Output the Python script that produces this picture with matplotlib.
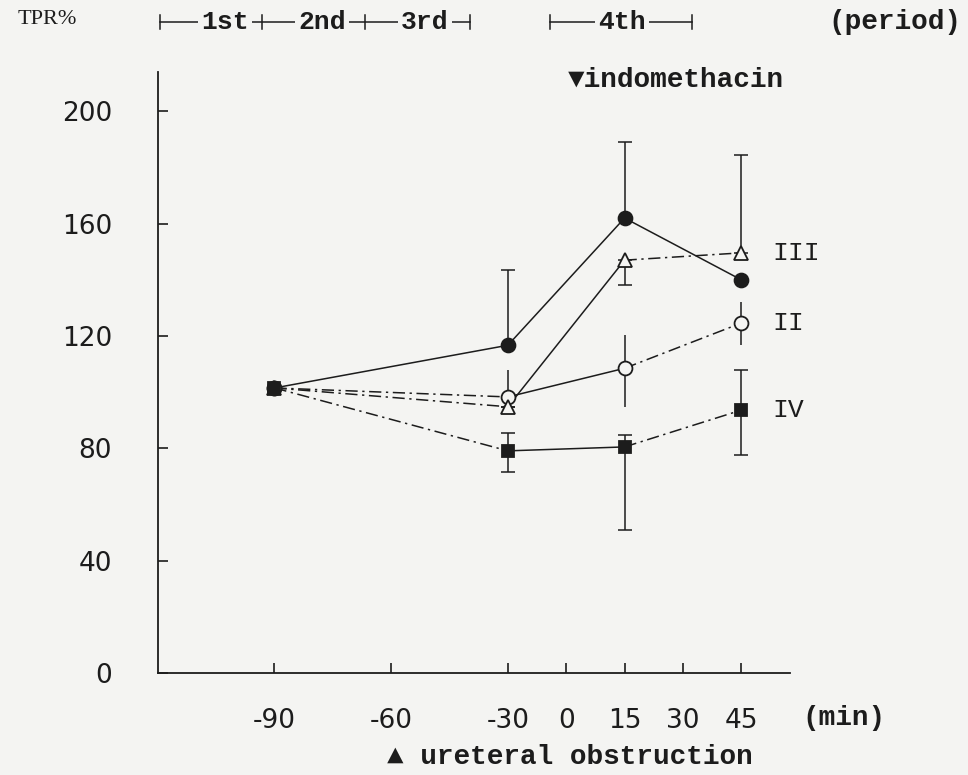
import numpy as np
import matplotlib.pyplot as plt

# time points (min) and group means / one-sided error bars (TPR %)
minutes = [-90, -30, 15, 45]
tick_minutes = [-90, -60, -30, 0, 15, 30, 45]
yticks = [0, 40, 80, 120, 160, 200]

groups = ['I', 'II', 'III', 'IV']
tpr_I = [101.5, 116.7, 162.0, 140.0]
tpr_II = [101.5, 98.3, 108.5, 124.6]
tpr_III = [101.5, 94.8, 147.0, 149.6]
tpr_IV = [101.5, 79.1, 80.5, 93.6]

up_I = [0, 26.7, 27.0, 0]
lo_I = [0, 0, 0, 0]
up_II = [0, 9.5, 12.0, 7.4]
lo_II = [0, 0, 13.7, 7.9]
up_III = [0, 0, 0, 35.0]
lo_III = [0, 0, 9.0, 0]
up_IV = [0, 6.3, 4.2, 14.2]
lo_IV = [0, 7.5, 29.6, 16.0]

ink = '#1c1c1c'
paper = '#f4f4f2'
mono = ['Liberation Mono', 'DejaVu Sans']
dashdot = (0, (8, 3, 1.5, 3))

# piecewise axis: -90..-30 and -30..45 are drawn at different spacing
bp_min = np.array([-200.0, -30.0, 0.0, 100.0])
bp_pos = np.array([(-200 + 90) / 15, 4.0, 5.0, 5 + 100 / 15])


def fwd(m):
    return np.interp(m, bp_min, bp_pos)


def inv(p):
    return np.interp(p, bp_pos, bp_min)


fig = plt.figure(figsize=(9.68, 7.75), dpi=100, facecolor=paper)
ax = fig.add_axes([0.163, 0.1316, 0.653, 0.7755])
ax.set_facecolor(paper)
ax.set_xscale('function', functions=(fwd, inv))
ax.set_xlim(-120, 57.5)
ax.set_ylim(0, 214)

series = [
    (tpr_I, up_I, lo_I, 'o', ink, ['-', '-', '-'], 5, 'I'),
    (tpr_II, up_II, lo_II, 'o', paper, [dashdot, '-', dashdot], 0, 'II'),
    (tpr_III, up_III, lo_III, '^', paper, [dashdot, '-', dashdot], 5, 'III'),
    (tpr_IV, up_IV, lo_IV, 's', ink, [dashdot, '-', dashdot], 5, 'IV'),
]

for vals, up, lo, mk, fc, styles, cap, name in series:
    for i in range(len(minutes) - 1):
        ax.plot(minutes[i:i + 2], vals[i:i + 2], color=ink, lw=1.1, ls=styles[i], zorder=2)
    ax.errorbar(minutes, vals, yerr=[lo, up], fmt='none', ecolor=ink, elinewidth=1.1,
                capsize=cap, capthick=1.1, zorder=2)
    ax.plot(minutes, vals, ls='none', marker=mk, ms=10 if mk != 's' else 9,
            mfc=fc, mec=ink, mew=1.3, zorder=3)
    if name != 'I':
        ax.text(53, vals[-1], name, family=mono, fontsize=19, color=ink, va='center', ha='left')

for side in ['top', 'right']:
    ax.spines[side].set_visible(False)
for side in ['left', 'bottom']:
    ax.spines[side].set_color(ink)
    ax.spines[side].set_linewidth(1.3)

ax.set_xticks(tick_minutes)
ax.set_xticklabels([str(t) for t in tick_minutes])
ax.set_yticks(yticks)
ax.set_yticklabels([str(t) for t in yticks])
ax.minorticks_off()
ax.tick_params(axis='both', direction='in', length=7, width=1.2, color=ink,
               labelsize=19, labelcolor=ink)
ax.tick_params(axis='x', pad=25)
ax.tick_params(axis='y', pad=33)


def px(x, y):
    return x / 968, 1 - y / 775


# header: unit, period bars, drug marker
fig.text(*px(18, 20), 'TPR%', family='Liberation Serif', fontsize=16, color=ink, va='center')
bar_y = 22
for x0, x1, ticks in [(160, 470, [160, 262, 365, 470]), (550, 692, [550, 692])]:
    fig.add_artist(plt.Line2D([x0 / 968, x1 / 968], [1 - bar_y / 775] * 2,
                              color=ink, lw=1.1, transform=fig.transFigure))
    for t in ticks:
        fig.add_artist(plt.Line2D([t / 968] * 2, [1 - (bar_y - 7) / 775, 1 - (bar_y + 7) / 775],
                                  color=ink, lw=1.1, transform=fig.transFigure))
for xc, lab in [(225, '1st'), (322, '2nd'), (425, '3rd'), (622, '4th')]:
    fig.text(*px(xc, bar_y), lab, family=mono, fontsize=19, fontweight='bold', color=ink,
             ha='center', va='center',
             bbox=dict(boxstyle='square,pad=0.12', fc=paper, ec='none'))
fig.text(*px(828, bar_y), '(period)', family=mono, fontsize=20, fontweight='bold',
         color=ink, ha='left', va='center')
fig.text(*px(568, 80), '\u25bcindomethacin', family=mono, fontsize=20, fontweight='bold',
         color=ink, ha='left', va='center')
fig.text(*px(802, 718), '(min)', family=mono, fontsize=20, fontweight='bold',
         color=ink, ha='left', va='center')
fig.text(*px(387, 757), '\u25b2 ureteral obstruction', family=mono, fontsize=20,
         fontweight='bold', color=ink, ha='left', va='center')

fig.savefig('out.png', dpi=100, facecolor=paper)
